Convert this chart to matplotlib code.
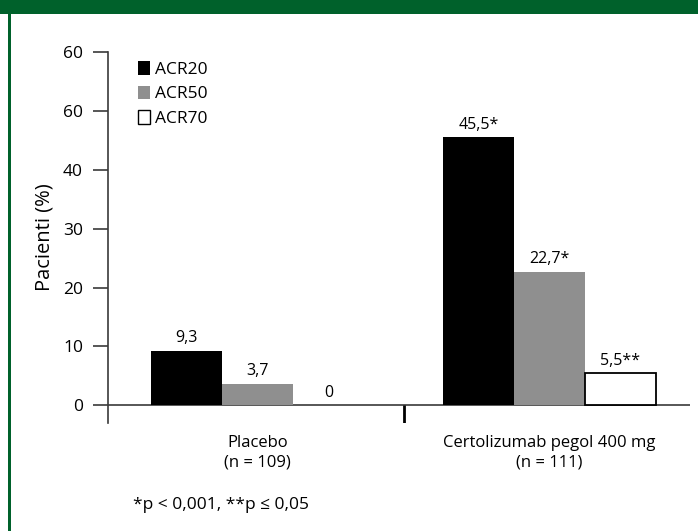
import numpy as np
import matplotlib.pyplot as plt
from matplotlib.patches import Rectangle, Patch

plt.rcParams['font.family'] = ['Open Sans', 'DejaVu Sans']

groups = ['Placebo\n(n = 109)', 'Certolizumab pegol 400 mg\n(n = 111)']
series = ['ACR20', 'ACR50', 'ACR70']
values = {
    'ACR20': [9.3, 45.5],
    'ACR50': [3.7, 22.7],
    'ACR70': [0.0, 5.5],
}
marks = {
    'ACR20': ['', '*'],
    'ACR50': ['', '*'],
    'ACR70': ['', '**'],
}
yticks = [0, 10, 20, 30, 40, 50, 60]
ytick_labels = ['0', '10', '20', '30', '40', '60', '60']
footnote = '*p < 0,001, **p \u2264 0,05'

face = {'ACR20': '#000000', 'ACR50': '#8f8f8f', 'ACR70': '#ffffff'}
green = '#00612b'
axcol = '#3a3a3a'

fig = plt.figure(figsize=(6.98, 5.31), dpi=100)

# green frame: top band and left rule
fig.patches.append(Rectangle((0, 1 - 14 / 531), 1, 14 / 531, transform=fig.transFigure,
                             facecolor=green, edgecolor='none', zorder=0))
fig.patches.append(Rectangle((8 / 698, 0), 3 / 698, 1, transform=fig.transFigure,
                             facecolor=green, edgecolor='none', zorder=0))

ax = fig.add_axes([108 / 698, 108 / 531, 582 / 698, 371 / 531])
x = np.arange(len(groups))
w = 0.243
for i, s in enumerate(series):
    pos = x + (i - 1) * w
    edges = ['black' if (s == 'ACR70' and v > 0) else 'none' for v in values[s]]
    ax.bar(pos, values[s], width=w, color=face[s], edgecolor=edges,
           linewidth=1.3, zorder=3)
    for xp, v, m in zip(pos, values[s], marks[s]):
        txt = '0' if v == 0 else f'{v:.1f}'.replace('.', ',')
        ax.annotate(txt + m, (xp, v), xytext=(0, 3), textcoords='offset points',
                    ha='center', va='bottom', fontsize=11.5)

ax.set_xlim(-0.512, 1.481)
ax.set_ylim(-3, 60)
ax.set_yticks(yticks)
ax.set_yticklabels(ytick_labels)
ax.set_xticks([])
ax.tick_params(axis='y', length=11, width=1.2, color=axcol, pad=7, labelsize=12.5)
for sp in ['top', 'right', 'bottom']:
    ax.spines[sp].set_visible(False)
ax.spines['left'].set_color(axcol)
ax.spines['left'].set_linewidth(1.2)

# baseline at zero and the divider between the two groups
ax.axhline(0, color=axcol, linewidth=1.2, zorder=2)
ax.plot([0.5, 0.5], [0, -3], color='black', linewidth=2, solid_capstyle='butt')

ax.set_ylabel('Pacienti (%)', fontsize=14.5, labelpad=6)

for xi, g in zip(x, groups):
    ax.text(xi, -5, g, ha='center', va='top', fontsize=12, linespacing=1.35)

fig.text(133 / 698, 1 - 505 / 531, footnote, ha='left', va='center', fontsize=12.5)

handles = [Patch(facecolor=face[s], edgecolor='black' if s == 'ACR70' else 'none',
                 linewidth=1) for s in series]
ax.legend(handles, series, loc='upper left', bbox_to_anchor=(0.052, 0.975),
          frameon=False, fontsize=12.5, handlelength=0.7, handleheight=0.8,
          handletextpad=0.25, labelspacing=0.45, borderaxespad=0, borderpad=0,
          handler_map=None)

fig.savefig('out.png', dpi=100)
